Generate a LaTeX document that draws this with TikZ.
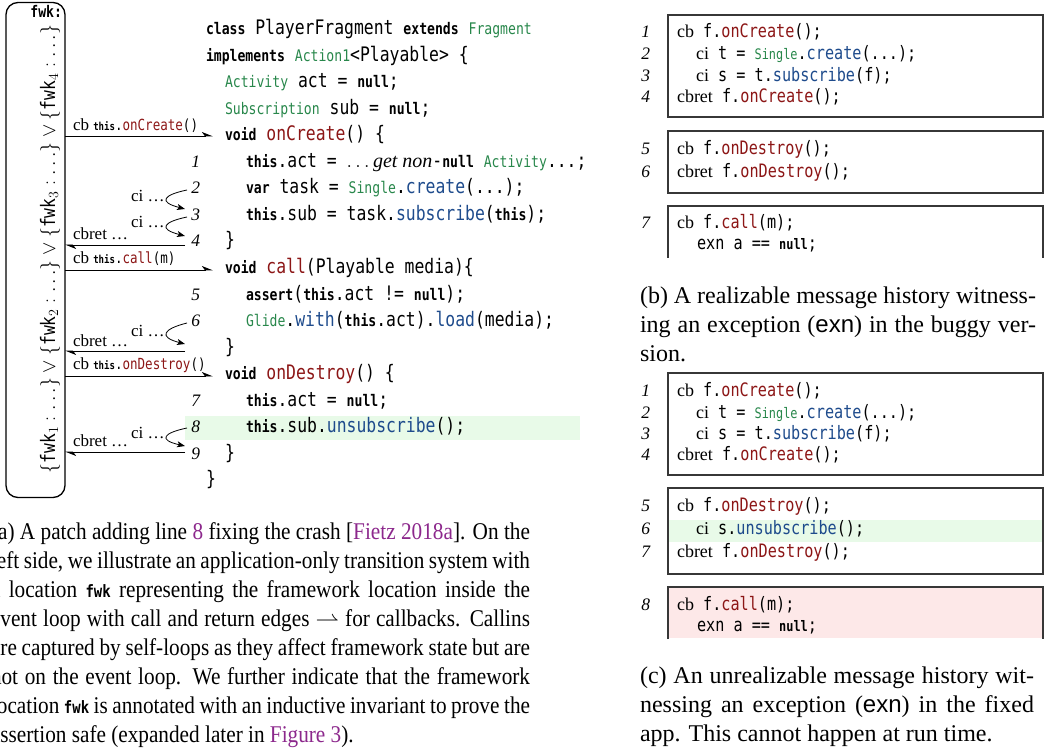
\RequirePackage{fix-cm}
\documentclass[tikz,border=0pt]{standalone}
\usepackage{fontspec}
\setmainfont{Liberation Serif}
\newfontfamily\capnarrow[FakeStretch=0.885]{Liberation Serif}
\newfontfamily\monoM[FakeStretch=0.82]{DejaVu Sans Mono}
\newfontfamily\capsf{Liberation Sans}
\usetikzlibrary{arrows.meta}
\definecolor{methred}{RGB}{140,22,22}
\definecolor{tygreen}{RGB}{40,135,75}
\definecolor{methblue}{RGB}{30,75,140}
\definecolor{hlgreen}{RGB}{232,250,232}
\definecolor{hlred}{RGB}{253,232,232}
\definecolor{linkpurple}{RGB}{140,40,140}
\definecolor{framegray}{RGB}{55,55,55}
\newcommand\fs[1]{\fontsize{#1}{#1}\selectfont}
\newcommand\CL{\monoM\fs{20}}
\newcommand\kL[1]{{\monoM\bfseries\fs{16}#1}}
\newcommand\tL[1]{{\monoM\fs{16}\color{tygreen}#1}}
\newcommand\mR[1]{\textcolor{methred}{#1}}
\newcommand\mB[1]{\textcolor{methblue}{#1}}
\newcommand\CR{\monoM\fs{18.5}}
\newcommand\kR[1]{{\monoM\bfseries\fs{14.5}#1}}
\newcommand\tR[1]{{\monoM\fs{14.5}\color{tygreen}#1}}
\newcommand\lbK[1]{{\monoM\bfseries\fs{11}#1}}
\newcommand\lbC{\monoM\fs{15.3}}
\newcommand\fwkK{{\monoM\bfseries\fs{17}fwk}}
\newcommand\jl[2]{\makebox[#1][s]{#2}}
\newcommand\lnk[1]{\textcolor{linkpurple}{#1}}
\begin{document}
\begin{tikzpicture}[x=1pt,y=-1pt,
  every node/.style={inner sep=0pt, outer sep=0pt},
  code/.style={anchor=base west, font=\CL},
  coder/.style={anchor=base west, font=\fs{18}},
  lnum/.style={anchor=base east, font=\itshape\fs{17.5}},
  lbl/.style={anchor=base west, font=\fs{17}},
  frame/.style={draw=framegray, line width=1.1pt},
  cbarrow/.style={-{Stealth[harpoon,length=10pt,width=8pt,inset=3pt]}, line width=0.9pt},
  ciloop/.style={-{Stealth[length=8pt,width=6pt,inset=2pt]}, line width=0.8pt},
  capline/.style={anchor=base west, font=\fs{24}},
  caplinea/.style={anchor=base west, font=\capnarrow\fs{24}}]
\useasboundingbox (0,0) rectangle (1049,751);
\clip (0,0) rectangle (1049,751);

% highlights
\fill[hlgreen] (185,416) rectangle (580,440);
\fill[hlgreen] (668,520) rectangle (1043,542);
\fill[hlred] (668,587) rectangle (1043,638);

% fwk box
\node[draw, rounded corners=12pt, line width=1.3pt, minimum width=59pt, minimum height=495pt] (fwkbox) at (35.5,250) {};
\node[anchor=base east, font=\monoM\bfseries\fs{16}] (fwklbl) at (62,18) {fwk:};
\node[rotate=90, font=\fs{19.9}] (inv) at (50,249) {$\{\mbox{\monoM fwk}_1 : \ldots\} \vee \{\mbox{\monoM fwk}_2 : \ldots\} \vee \{\mbox{\monoM fwk}_3 : \ldots\} \vee \{\mbox{\monoM fwk}_4 : \ldots\}$};

% code
\node[code] (c0) at (206,35) {\kL{class} PlayerFragment \kL{extends} \tL{Fragment}};
\node[code] (c1) at (206,61.5) {\kL{implements} \tL{Action1}<Playable> \{};
\node[code] (c2) at (225,88) {\tL{Activity} act = \kL{null};};
\node[code] (c3) at (225,114.5) {\tL{Subscription} sub = \kL{null};};
\node[code] (c4) at (225,141) {\kL{void} \mR{onCreate}() \{};
\node[code] (c5) at (246,167.5) {\kL{this}.act = {\rmfamily$\ldots$\,\itshape get non}-\kL{null} \tL{Activity}...;};
\node[code] (c6) at (246,194) {\kL{var} task = \tL{Single}.\mB{create}(...);};
\node[code] (c7) at (246,220.5) {\kL{this}.sub = task.\mB{subscribe}(\kL{this});};
\node[code] (c8) at (225,247) {\}};
\node[code] (c9) at (225,273.5) {\kL{void} \mR{call}(Playable media)\{};
\node[code] (c10) at (246,300) {\kL{assert}(\kL{this}.act != \kL{null});};
\node[code] (c11) at (246,326.5) {\tL{Glide}.\mB{with}(\kL{this}.act).\mB{load}(media);};
\node[code] (c12) at (225,353) {\}};
\node[code] (c13) at (225,379.5) {\kL{void} \mR{onDestroy}() \{};
\node[code] (c14) at (246,406) {\kL{this}.act = \kL{null};};
\node[code] (c15) at (246,432.5) {\kL{this}.sub.\mB{unsubscribe}();};
\node[code] (c16) at (225,459) {\}};
\node[code] (c17) at (206,485.5) {\}};

% line numbers
\node[lnum] (n1) at (200,167.5) {1};
\node[lnum] (n2) at (200,194) {2};
\node[lnum] (n3) at (200,220.5) {3};
\node[lnum] (n4) at (200,247) {4};
\node[lnum] (n5) at (200,300) {5};
\node[lnum] (n6) at (200,326.5) {6};
\node[lnum] (n7) at (200,406) {7};
\node[lnum] (n8) at (200,432.5) {8};
\node[lnum] (n9) at (200,459) {9};

% arrow end points
\coordinate (a1) at (213,136);
\coordinate (a2) at (185,245);
\coordinate (a3) at (213,270);
\coordinate (a4) at (185,351);
\coordinate (a5) at (213,376);
\coordinate (a6) at (185,452);

\draw[cbarrow] (fwkbox.east |- a1) -- (a1);
\draw[cbarrow] (a2) -- (fwkbox.east |- a2);
\draw[cbarrow] (fwkbox.east |- a3) -- (a3);
\draw[cbarrow] (a4) -- (fwkbox.east |- a4);
\draw[cbarrow] (fwkbox.east |- a5) -- (a5);
\draw[cbarrow] (a6) -- (fwkbox.east |- a6);

\node[lbl] (l1) at (73,131) {cb \lbK{this}{\lbC.\mR{onCreate}()}};
\node[lbl] (l2) at (73,240) {cbret \ldots};
\node[lbl] (l3) at (73,264) {cb \lbK{this}{\lbC.\mR{call}(m)}};
\node[lbl] (l4) at (73,346) {cbret \ldots};
\node[lbl] (l5) at (73,369.5) {cb \lbK{this}{\lbC.\mR{onDestroy}()}};
\node[lbl] (l6) at (73,446) {cbret \ldots};

% self loops
\coordinate (s1) at (187,190);
\coordinate (e1) at (185,209);
\coordinate (s2) at (187,217);
\coordinate (e2) at (185,236);
\coordinate (s3) at (187,323);
\coordinate (e3) at (185,344);
\coordinate (s4) at (187,428);
\coordinate (e4) at (185,446);
\draw[ciloop] (s1) .. controls (163,195) and (158,202) .. (e1);
\draw[ciloop] (s2) .. controls (163,222) and (158,229) .. (e2);
\draw[ciloop] (s3) .. controls (163,329) and (158,337) .. (e3);
\draw[ciloop] (s4) .. controls (163,433) and (158,440) .. (e4);
\node[lbl] (ci1) at (131,202) {ci \ldots};
\node[lbl] (ci2) at (131,228) {ci \ldots};
\node[lbl] (ci3) at (131,336) {ci \ldots};
\node[lbl] (ci4) at (131,438) {ci \ldots};

% caption (a)
\node[caplinea] (ca1) at (-9,539) {\jl{539pt}{(a) A patch adding line \lnk{8} fixing the crash [\lnk{Fietz 2018a}]. On the}};
\node[caplinea] (ca2) at (-9,568) {\jl{539pt}{left side, we illustrate an application-only transition system with}};
\node[caplinea] (ca3) at (-9,597) {\jl{539pt}{a location \fwkK{} representing the framework location inside the}};
\node[caplinea] (ca4) at (-9,626) {\jl{539pt}{event loop with call and return edges $\rightharpoonup$ for callbacks. Callins}};
\node[caplinea] (ca5) at (-9,655) {\jl{539pt}{are captured by self-loops as they affect framework state but are}};
\node[caplinea] (ca6) at (-9,684) {\jl{539pt}{not on the event loop. We further indicate that the framework}};
\node[caplinea] (ca7) at (-9,713) {\jl{539pt}{location \fwkK{} is annotated with an inductive invariant to prove the}};
\node[caplinea] (ca8) at (-9,742) {assertion safe (expanded later in \lnk{Figure 3}).};

% (b) boxes
\draw[frame] (668,15) rectangle (1043,117);
\node[lnum] (b1) at (650,38) {1};
\node[lnum] (b2) at (650,60) {2};
\node[lnum] (b3) at (650,82) {3};
\node[lnum] (b4) at (650,103) {4};
\node[coder] (bt1) at (677,38) {cb{\CR\ f.\mR{onCreate}();}};
\node[coder] (bt2) at (696,60) {ci{\CR\ t = \tR{Single}.\mB{create}(...);}};
\node[coder] (bt3) at (696,82) {ci{\CR\ s = t.\mB{subscribe}(f);}};
\node[coder] (bt4) at (677,103) {cbret{\CR\ f.\mR{onCreate}();}};

\draw[frame] (668,131) rectangle (1043,193);
\node[lnum] (b5) at (650,155) {5};
\node[lnum] (b6) at (650,178) {6};
\node[coder] (bt5) at (677,155) {cb{\CR\ f.\mR{onDestroy}();}};
\node[coder] (bt6) at (677,178) {cbret{\CR\ f.\mR{onDestroy}();}};

\draw[frame] (668,258) -- (668,206) -- (1043,206) -- (1043,258);
\node[lnum] (b7) at (650,229) {7};
\node[coder] (bt7) at (677,229) {cb{\CR\ f.\mR{call}(m);}};
\node[coder] (bt8) at (697,250) {{\CR exn a == \kR{null};}};

% caption (b)
\node[capline] (cb1) at (640,303) {\jl{396pt}{(b) A realizable message history witness-}};
\node[capline] (cb2) at (640,332) {\jl{396pt}{ing an exception ({\capsf exn}) in the buggy ver-}};
\node[capline] (cb3) at (640,361) {sion.};

% (c) boxes
\draw[frame] (668,373) rectangle (1043,475);
\node[lnum] (d1) at (650,396) {1};
\node[lnum] (d2) at (650,418) {2};
\node[lnum] (d3) at (650,439) {3};
\node[lnum] (d4) at (650,460) {4};
\node[coder] (dt1) at (677,396) {cb{\CR\ f.\mR{onCreate}();}};
\node[coder] (dt2) at (696,418) {ci{\CR\ t = \tR{Single}.\mB{create}(...);}};
\node[coder] (dt3) at (696,439) {ci{\CR\ s = t.\mB{subscribe}(f);}};
\node[coder] (dt4) at (677,460) {cbret{\CR\ f.\mR{onCreate}();}};

\draw[frame] (668,488) rectangle (1043,574);
\node[lnum] (d5) at (650,511) {5};
\node[lnum] (d6) at (650,534) {6};
\node[lnum] (d7) at (650,557) {7};
\node[coder] (dt5) at (677,511) {cb{\CR\ f.\mR{onDestroy}();}};
\node[coder] (dt6) at (696,534) {ci{\CR\ s.\mB{unsubscribe}();}};
\node[coder] (dt7) at (677,557) {cbret{\CR\ f.\mR{onDestroy}();}};

\draw[frame] (668,639) -- (668,587) -- (1043,587) -- (1043,639);
\node[lnum] (d8) at (650,610) {8};
\node[coder] (dt8) at (677,610) {cb{\CR\ f.\mR{call}(m);}};
\node[coder] (dt9) at (697,631) {{\CR exn a == \kR{null};}};

% caption (c)
\node[capline] (cc1) at (640,683) {\jl{394pt}{(c) An unrealizable message history wit-}};
\node[capline] (cc2) at (640,712) {\jl{394pt}{nessing an exception ({\capsf exn}) in the fixed}};
\node[capline] (cc3) at (640,741) {app. This cannot happen at run time.};
\end{tikzpicture}
\end{document}
